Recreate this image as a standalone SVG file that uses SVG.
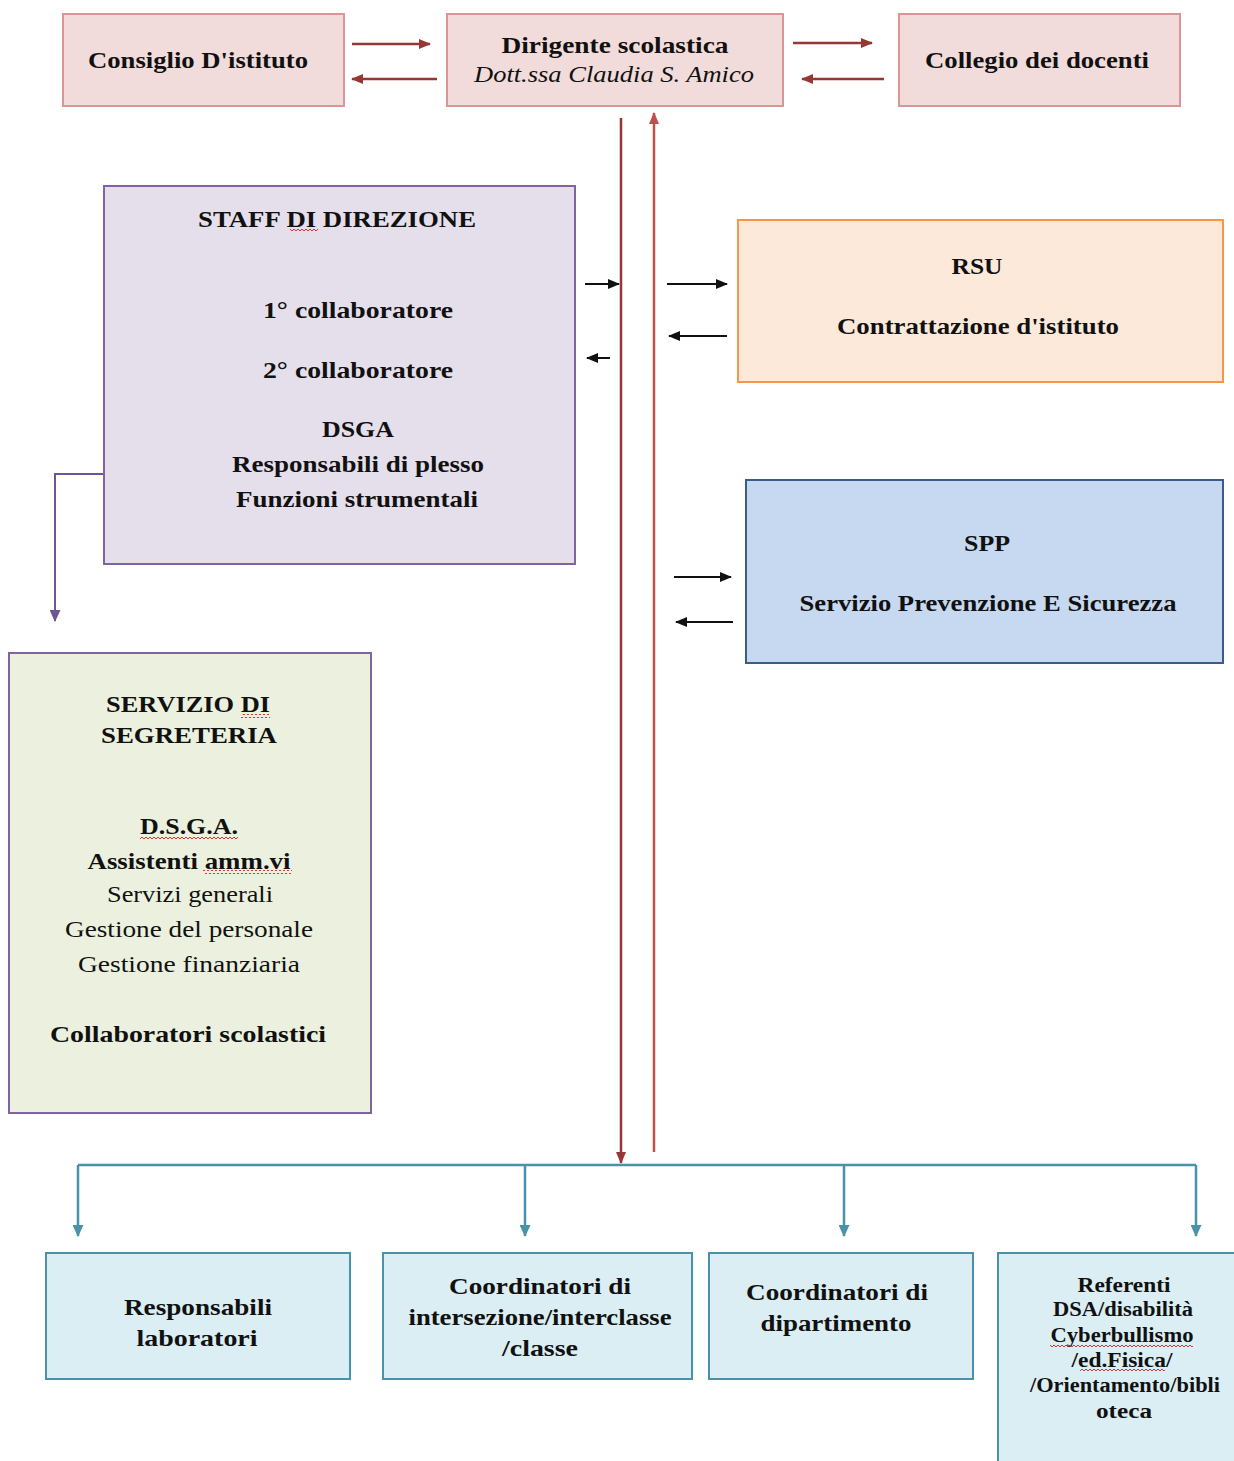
<svg xmlns="http://www.w3.org/2000/svg" width="1234" height="1461" viewBox="0 0 1234 1461">
<style>
.t{font-family:"Liberation Serif","Times New Roman",serif;font-weight:bold;font-size:24px;fill:#111;text-anchor:middle}
.r{font-family:"Liberation Serif","Times New Roman",serif;font-weight:normal;font-size:24px;fill:#111;text-anchor:middle}
.i{font-family:"Liberation Serif","Times New Roman",serif;font-style:italic;font-size:24px;fill:#111;text-anchor:middle}
.s{font-family:"Liberation Serif","Times New Roman",serif;font-weight:bold;font-size:20px;fill:#111;text-anchor:middle}
.pink{fill:#f2dcdb;stroke:#d99694;stroke-width:2}
.lilac{fill:#e5dfec;stroke:#8064a2;stroke-width:2}
.green{fill:#ebf1de;stroke:#8064a2;stroke-width:2}
.peach{fill:#fde9d9;stroke:#f79646;stroke-width:2}
.blue{fill:#c6d9f1;stroke:#385d8a;stroke-width:2}
.aqua{fill:#daeef3;stroke:#4a92a8;stroke-width:2}
.red{stroke:#953735;stroke-width:2.5;fill:none}
.red2{stroke:#c0504d;stroke-width:2.5;fill:none}
.blk{stroke:#111;stroke-width:2;fill:none}
.teal{stroke:#4a92a8;stroke-width:2.5;fill:none}
.pur{stroke:#6f5594;stroke-width:2;fill:none}
.wavy{fill:url(#wv)}
</style>
<defs>
<pattern id="wv" width="4" height="4" patternUnits="userSpaceOnUse"><path d="M0,3 L2,1 L4,3" stroke="#e02020" stroke-width="0.9" fill="none"/></pattern>
<marker id="ar" markerUnits="userSpaceOnUse" markerWidth="12" markerHeight="10" refX="11" refY="5" orient="auto"><path d="M0,0 L12,5 L0,10 Z" fill="#953735"/></marker>
<marker id="ar2" markerUnits="userSpaceOnUse" markerWidth="12" markerHeight="10" refX="11" refY="5" orient="auto"><path d="M0,0 L12,5 L0,10 Z" fill="#c0504d"/></marker>
<marker id="ab" markerUnits="userSpaceOnUse" markerWidth="12" markerHeight="10" refX="11" refY="5" orient="auto"><path d="M0,0 L12,5 L0,10 Z" fill="#111"/></marker>
<marker id="at" markerUnits="userSpaceOnUse" markerWidth="12" markerHeight="11" refX="11" refY="5.5" orient="auto"><path d="M0,0 L12,5.5 L0,11 Z" fill="#4a92a8"/></marker>
<marker id="ap" markerUnits="userSpaceOnUse" markerWidth="12" markerHeight="11" refX="11" refY="5.5" orient="auto"><path d="M0,0 L12,5.5 L0,11 Z" fill="#6f5594"/></marker>
</defs>
<rect width="1234" height="1461" fill="#fff"/>

<g id="connectors">
<path class="red" d="M352,44 H430" marker-end="url(#ar)"/>
<path class="red" d="M437,79 H352" marker-end="url(#ar)"/>
<path class="red" d="M793,43 H872" marker-end="url(#ar)"/>
<path class="red" d="M884,79 H802" marker-end="url(#ar)"/>
<path class="red" d="M621,118 V1163" marker-end="url(#ar)"/>
<path class="red2" d="M654,1152 V113" marker-end="url(#ar2)"/>
<path class="blk" d="M585,284 H619" marker-end="url(#ab)"/>
<path class="blk" d="M610,358 H587" marker-end="url(#ab)"/>
<path class="blk" d="M667,284 H727" marker-end="url(#ab)"/>
<path class="blk" d="M727,336 H669" marker-end="url(#ab)"/>
<path class="blk" d="M674,577 H731" marker-end="url(#ab)"/>
<path class="blk" d="M733,622 H676" marker-end="url(#ab)"/>
<path class="pur" d="M105,327 V474 H55 V621" marker-end="url(#ap)"/>
<path class="teal" d="M78,1165 H1196"/>
<path class="teal" d="M78,1165 V1236" marker-end="url(#at)"/>
<path class="teal" d="M525,1165 V1236" marker-end="url(#at)"/>
<path class="teal" d="M844,1165 V1236" marker-end="url(#at)"/>
<path class="teal" d="M1196,1165 V1236" marker-end="url(#at)"/>
</g>

<g id="consiglio">
<rect class="pink" x="63" y="14" width="281" height="92"/>
<text class="t" x="198" y="68" textLength="220" lengthAdjust="spacingAndGlyphs">Consiglio D'istituto</text>
</g>
<g id="dirigente">
<rect class="pink" x="447" y="14" width="336" height="92"/>
<text class="t" x="615" y="53" textLength="227" lengthAdjust="spacingAndGlyphs">Dirigente scolastica</text>
<text class="i" x="614" y="82" textLength="280" lengthAdjust="spacingAndGlyphs">Dott.ssa Claudia S. Amico</text>
</g>
<g id="collegio">
<rect class="pink" x="899" y="14" width="281" height="92"/>
<text class="t" x="1037" y="68" textLength="224" lengthAdjust="spacingAndGlyphs">Collegio dei docenti</text>
</g>

<g id="staff">
<rect class="lilac" x="104" y="186" width="471" height="378"/>
<text class="t" x="337" y="227" textLength="278" lengthAdjust="spacingAndGlyphs">STAFF DI DIREZIONE</text>
<rect class="wavy" x="290" y="229" width="28" height="4"/>
<text class="t" x="358" y="318" textLength="190" lengthAdjust="spacingAndGlyphs">1° collaboratore</text>
<text class="t" x="358" y="378" textLength="190" lengthAdjust="spacingAndGlyphs">2° collaboratore</text>
<text class="t" x="358" y="437" textLength="72" lengthAdjust="spacingAndGlyphs">DSGA</text>
<text class="t" x="358" y="472" textLength="252" lengthAdjust="spacingAndGlyphs">Responsabili di plesso</text>
<text class="t" x="357" y="507" textLength="242" lengthAdjust="spacingAndGlyphs">Funzioni strumentali</text>
</g>

<g id="rsu">
<rect class="peach" x="738" y="220" width="485" height="162"/>
<text class="t" x="977" y="274" textLength="51" lengthAdjust="spacingAndGlyphs">RSU</text>
<text class="t" x="978" y="334" textLength="282" lengthAdjust="spacingAndGlyphs">Contrattazione d'istituto</text>
</g>

<g id="spp">
<rect class="blue" x="746" y="480" width="477" height="183"/>
<text class="t" x="987" y="551" textLength="46" lengthAdjust="spacingAndGlyphs">SPP</text>
<text class="t" x="988" y="611" textLength="377" lengthAdjust="spacingAndGlyphs">Servizio Prevenzione E Sicurezza</text>
</g>

<g id="segreteria">
<rect class="green" x="9" y="653" width="362" height="460"/>
<text class="t" x="188" y="712" textLength="164" lengthAdjust="spacingAndGlyphs">SERVIZIO DI</text>
<rect class="wavy" x="241" y="714" width="29" height="4"/>
<text class="t" x="189" y="743" textLength="176" lengthAdjust="spacingAndGlyphs">SEGRETERIA</text>
<text class="t" x="189" y="834" textLength="98" lengthAdjust="spacingAndGlyphs">D.S.G.A.</text>
<rect class="wavy" x="140" y="835" width="98" height="4"/>
<text class="t" x="189" y="869" textLength="203" lengthAdjust="spacingAndGlyphs">Assistenti amm.vi</text>
<rect class="wavy" x="203" y="870" width="89" height="4"/>
<text class="r" x="190" y="902" textLength="166" lengthAdjust="spacingAndGlyphs">Servizi generali</text>
<text class="r" x="189" y="937" textLength="248" lengthAdjust="spacingAndGlyphs">Gestione del personale</text>
<text class="r" x="189" y="972" textLength="222" lengthAdjust="spacingAndGlyphs">Gestione finanziaria</text>
<text class="t" x="188" y="1042" textLength="276" lengthAdjust="spacingAndGlyphs">Collaboratori scolastici</text>
</g>

<g id="responsabili">
<rect class="aqua" x="46" y="1253" width="304" height="126"/>
<text class="t" x="198" y="1315" textLength="148" lengthAdjust="spacingAndGlyphs">Responsabili</text>
<text class="t" x="197" y="1346" textLength="121" lengthAdjust="spacingAndGlyphs">laboratori</text>
</g>
<g id="coord-intersezione">
<rect class="aqua" x="383" y="1253" width="309" height="126"/>
<text class="t" x="540" y="1294" textLength="182" lengthAdjust="spacingAndGlyphs">Coordinatori di</text>
<text class="t" x="540" y="1325" textLength="263" lengthAdjust="spacingAndGlyphs">intersezione/interclasse</text>
<text class="t" x="540" y="1356" textLength="76" lengthAdjust="spacingAndGlyphs">/classe</text>
</g>
<g id="coord-dipartimento">
<rect class="aqua" x="709" y="1253" width="264" height="126"/>
<text class="t" x="837" y="1300" textLength="182" lengthAdjust="spacingAndGlyphs">Coordinatori di</text>
<text class="t" x="836" y="1331" textLength="151" lengthAdjust="spacingAndGlyphs">dipartimento</text>
</g>
<g id="referenti">
<rect class="aqua" x="998" y="1253" width="245" height="220"/>
<text class="s" x="1124" y="1292" textLength="93" lengthAdjust="spacingAndGlyphs">Referenti</text>
<text class="s" x="1123" y="1316" textLength="140" lengthAdjust="spacingAndGlyphs">DSA/disabilità</text>
<text class="s" x="1122" y="1342" textLength="143" lengthAdjust="spacingAndGlyphs">Cyberbullismo</text>
<rect class="wavy" x="1050" y="1343" width="143" height="4"/>
<text class="s" x="1122" y="1367" textLength="101" lengthAdjust="spacingAndGlyphs">/ed.Fisica/</text>
<rect class="wavy" x="1080" y="1368" width="85" height="4"/>
<text class="s" x="1125" y="1392" textLength="190" lengthAdjust="spacingAndGlyphs">/Orientamento/bibli</text>
<text class="s" x="1124" y="1418" textLength="56" lengthAdjust="spacingAndGlyphs">oteca</text>
</g>
</svg>
